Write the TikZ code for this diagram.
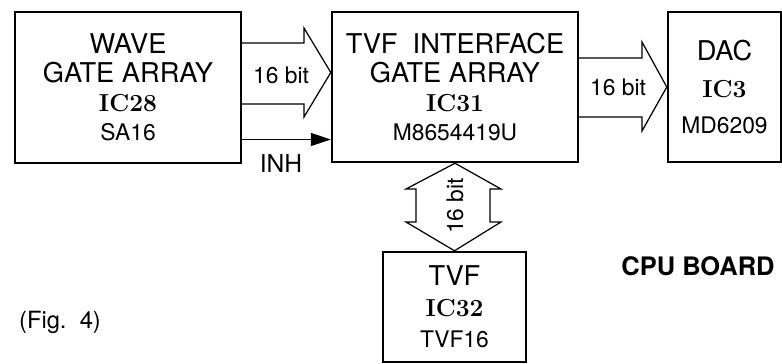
\documentclass[tikz,border=0pt]{standalone}
\usepackage{fontspec}
\setsansfont{TeX Gyre Heros}
\usetikzlibrary{arrows.meta}

\newcommand{\ttl}{\sffamily\fontsize{15.5}{16.5}\selectfont}
\newcommand{\prt}{\sffamily\fontsize{13}{16.5}\selectfont}
\newcommand{\icn}{\rmfamily\bfseries\fontsize{14}{16.5}\selectfont}

\begin{document}
\begin{tikzpicture}[x=0.02cm, y=-0.02cm,
    chip/.style={rectangle, draw, line width=1.4pt, align=center, inner sep=0pt},
    bus/.style={draw, line width=0.7pt, line join=miter},
    lbl/.style={font=\prt, inner sep=0pt}]
    \useasboundingbox (0,0) rectangle (782,363);

    \node [chip, minimum width=4.52cm, minimum height=3.02cm,
        font=\sffamily\fontsize{15.5}{16.5}\selectfont] (wave) at (128,87.5)
        {\ttl WAVE\\ \ttl GATE ARRAY\\ \icn IC28\\ \prt SA16};
    \node [chip, minimum width=4.92cm, minimum height=3.0cm,
        font=\sffamily\fontsize{15.5}{16.5}\selectfont] (tvfif) at (455,87)
        {\ttl TVF\ \ INTERFACE\\ \ttl GATE ARRAY\\ \icn IC31\\ \prt M8654419U};
    \node [chip, minimum width=2.26cm, minimum height=3.0cm,
        font=\sffamily\fontsize{15.5}{21}\selectfont] (dac) at (724.5,87)
        {\ttl DAC\\ \icn IC3\\ \prt MD6209};
    \node [chip, minimum width=2.86cm, minimum height=2.2cm,
        font=\sffamily\fontsize{15.5}{17.6}\selectfont] (tvf) at (454.5,307)
        {\ttl TVF\\ \icn IC32\\ \prt TVF16};

    % 16 bit buses
    \draw [bus] (wave.east |- 0,43) -- (304,43) -- (304,28) -- (tvfif.west |- 0,72.5)
        -- (304,117) -- (304,104) -- (wave.east |- 0,104);
    \node [lbl] (b1) at (281,75) {16 bit};
    \draw [bus] (tvfif.east |- 0,58) -- (642,58) -- (642,42) -- (dac.west |- 0,87)
        -- (642,131) -- (642,117) -- (tvfif.east |- 0,117);
    \node [lbl] (b2) at (618,87) {16 bit};
    \draw [bus] (tvfif.south) -- (501,189) -- (490,189) -- (490,222) -- (501,222)
        -- (tvf.north) -- (406,222) -- (416,222) -- (416,189) -- (406,189) -- cycle;
    \node [lbl, rotate=90] (b3) at (455,206) {16 bit};

    \draw [line width=0.75pt, -{Triangle[length=0.4cm, width=0.26cm]}]
        (wave.east |- 0,139.5) -- (tvfif.west |- 0,139.5);
    \node [font=\sffamily\fontsize{14}{16}\selectfont, inner sep=0pt] (inh) at (281,164) {INH};

    \node [font=\sffamily\bfseries\fontsize{14.5}{16}\selectfont, inner sep=0pt] (cpu) at (698,266) {CPU BOARD};
    \node [font=\sffamily\fontsize{13.5}{16}\selectfont, inner sep=0pt] (fig) at (60,322) {(Fig.\ \ 4)};
\end{tikzpicture}
\end{document}
